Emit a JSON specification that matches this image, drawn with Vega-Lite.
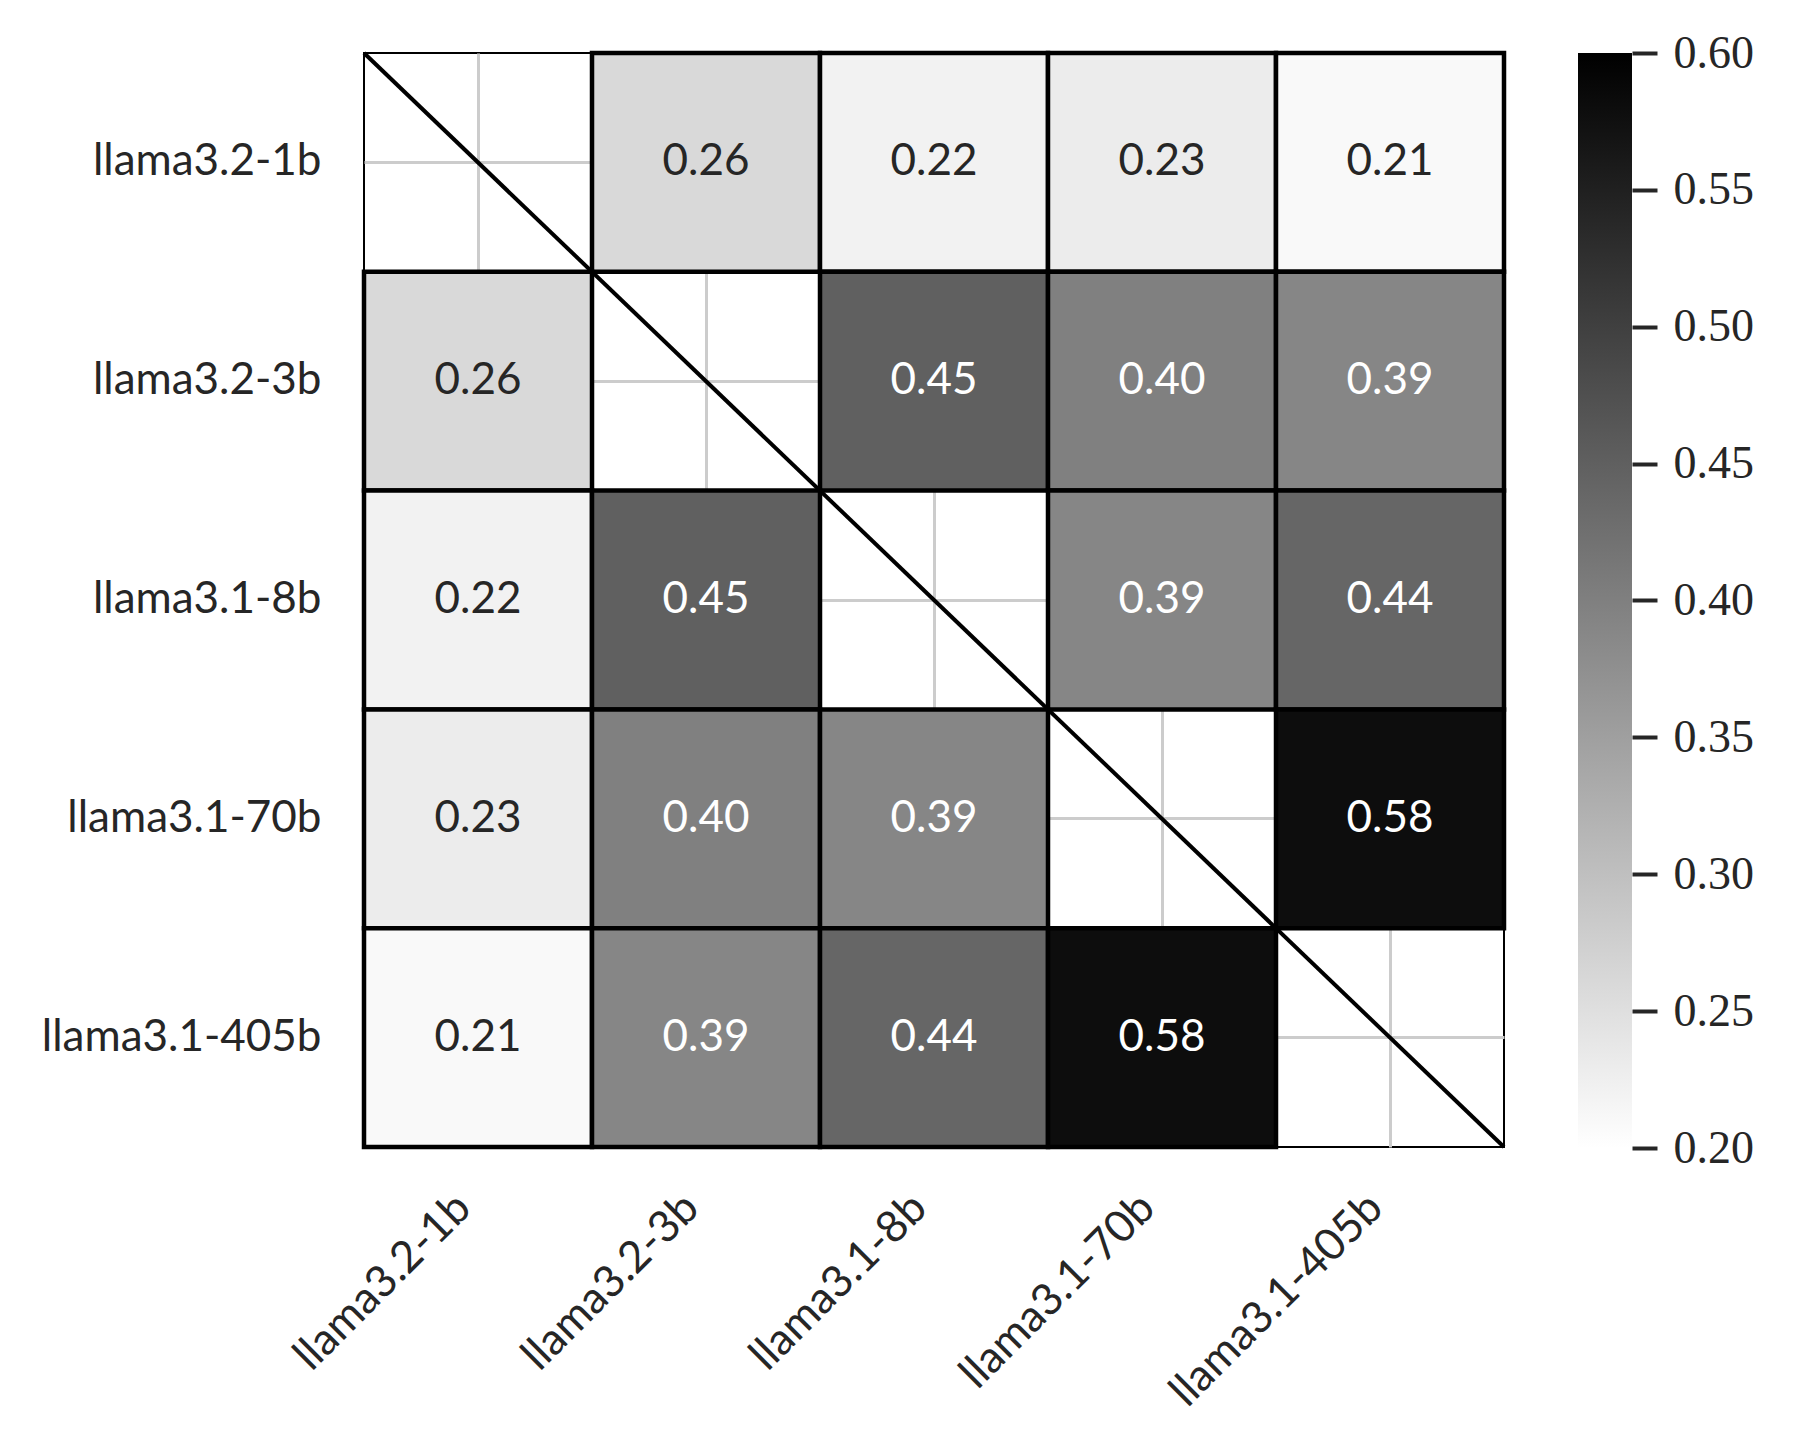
{
  "$schema": "https://vega.github.io/schema/vega-lite/v6.json",
  "background": "white",
  "padding": {"left": 40, "top": 30, "right": 5, "bottom": 5},
  "bounds": "flush",
  "spacing": 74,
  "config": {
    "axis": {"labelFont": "Lato", "labelColor": "#262626", "titleFont": "Lato"},
    "text": {"font": "Lato"}
  },
  "datasets": {
    "cells": [
      {"row": "llama3.2-1b", "col": "llama3.2-3b", "v": 0.26},
      {"row": "llama3.2-1b", "col": "llama3.1-8b", "v": 0.22},
      {"row": "llama3.2-1b", "col": "llama3.1-70b", "v": 0.23},
      {"row": "llama3.2-1b", "col": "llama3.1-405b", "v": 0.21},
      {"row": "llama3.2-3b", "col": "llama3.2-1b", "v": 0.26},
      {"row": "llama3.2-3b", "col": "llama3.1-8b", "v": 0.45},
      {"row": "llama3.2-3b", "col": "llama3.1-70b", "v": 0.40},
      {"row": "llama3.2-3b", "col": "llama3.1-405b", "v": 0.39},
      {"row": "llama3.1-8b", "col": "llama3.2-1b", "v": 0.22},
      {"row": "llama3.1-8b", "col": "llama3.2-3b", "v": 0.45},
      {"row": "llama3.1-8b", "col": "llama3.1-70b", "v": 0.39},
      {"row": "llama3.1-8b", "col": "llama3.1-405b", "v": 0.44},
      {"row": "llama3.1-70b", "col": "llama3.2-1b", "v": 0.23},
      {"row": "llama3.1-70b", "col": "llama3.2-3b", "v": 0.40},
      {"row": "llama3.1-70b", "col": "llama3.1-8b", "v": 0.39},
      {"row": "llama3.1-70b", "col": "llama3.1-405b", "v": 0.58},
      {"row": "llama3.1-405b", "col": "llama3.2-1b", "v": 0.21},
      {"row": "llama3.1-405b", "col": "llama3.2-3b", "v": 0.39},
      {"row": "llama3.1-405b", "col": "llama3.1-8b", "v": 0.44},
      {"row": "llama3.1-405b", "col": "llama3.1-70b", "v": 0.58}
    ],
    "diag": [{"a": "llama3.2-1b", "b": "llama3.1-405b"}],
    "cbar": [{"lo": 0.2, "hi": 0.6}]
  },
  "hconcat": [
    {
      "width": 1140,
      "height": 1094,
      "view": {"stroke": "black", "strokeWidth": 2},
      "encoding": {
        "x": {
          "field": "col", "type": "nominal",
          "scale": {"domain": ["llama3.2-1b", "llama3.2-3b", "llama3.1-8b", "llama3.1-70b", "llama3.1-405b"], "paddingInner": 0, "paddingOuter": 0},
          "axis": {
            "title": null, "ticks": false, "domain": false, "zindex": 0,
            "grid": true, "gridColor": "#cccccc", "gridWidth": 3,
            "labelAngle": -45, "labelAlign": "right", "labelBaseline": "middle",
            "labelFontSize": 44, "labelPadding": 54, "labelOffset": -14, "labelLimit": 0
          }
        },
        "y": {
          "field": "row", "type": "nominal",
          "scale": {"domain": ["llama3.2-1b", "llama3.2-3b", "llama3.1-8b", "llama3.1-70b", "llama3.1-405b"], "paddingInner": 0, "paddingOuter": 0},
          "axis": {
            "title": null, "ticks": false, "domain": false, "zindex": 0,
            "grid": true, "gridColor": "#cccccc", "gridWidth": 3,
            "labelFontSize": 44, "labelPadding": 43, "labelLimit": 0
          }
        }
      },
      "layer": [
        {
          "data": {"name": "cells"},
          "mark": {"type": "rect", "stroke": "black", "strokeWidth": 4.5},
          "encoding": {
            "color": {
              "field": "v", "type": "quantitative",
              "scale": {"domain": [0.2, 0.6], "range": ["#ffffff", "#000000"], "interpolate": "rgb", "clamp": true},
              "legend": null
            }
          }
        },
        {
          "data": {"name": "cells"},
          "mark": {"type": "text", "fontSize": 44, "font": "Lato", "baseline": "middle", "align": "center"},
          "encoding": {
            "text": {"field": "v", "type": "quantitative", "format": ".2f"},
            "color": {
              "condition": {"test": "datum.v > 0.35", "value": "#ffffff"},
              "value": "#262626"
            }
          }
        },
        {
          "data": {"name": "diag"},
          "mark": {"type": "rule", "stroke": "black", "strokeWidth": 4},
          "encoding": {
            "x": {"field": "a", "type": "nominal", "bandPosition": 0},
            "x2": {"field": "b", "bandPosition": 1},
            "y": {"field": "a", "type": "nominal", "bandPosition": 0},
            "y2": {"field": "b", "bandPosition": 1}
          }
        }
      ]
    },
    {
      "width": 54,
      "height": 1095,
      "view": {"stroke": null},
      "data": {"name": "cbar"},
      "mark": {
        "type": "rect",
        "stroke": null,
        "fill": {
          "gradient": "linear", "x1": 0, "y1": 1, "x2": 0, "y2": 0,
          "stops": [{"offset": 0, "color": "#ffffff"}, {"offset": 1, "color": "#000000"}]
        }
      },
      "encoding": {
        "y": {
          "field": "lo", "type": "quantitative",
          "scale": {"domain": [0.2, 0.6], "nice": false, "zero": false},
          "axis": {
            "orient": "right", "title": null, "domain": false, "grid": false,
            "values": [0.2, 0.25, 0.3, 0.35, 0.4, 0.45, 0.5, 0.55, 0.6],
            "format": ".2f", "tickSize": 25, "tickWidth": 4, "tickColor": "#262626",
            "labelFont": "Liberation Serif", "labelFontSize": 46, "labelColor": "#262626",
            "labelPadding": 16, "labelFlush": false, "labelOverlap": false
          }
        },
        "y2": {"field": "hi"}
      }
    }
  ]
}
